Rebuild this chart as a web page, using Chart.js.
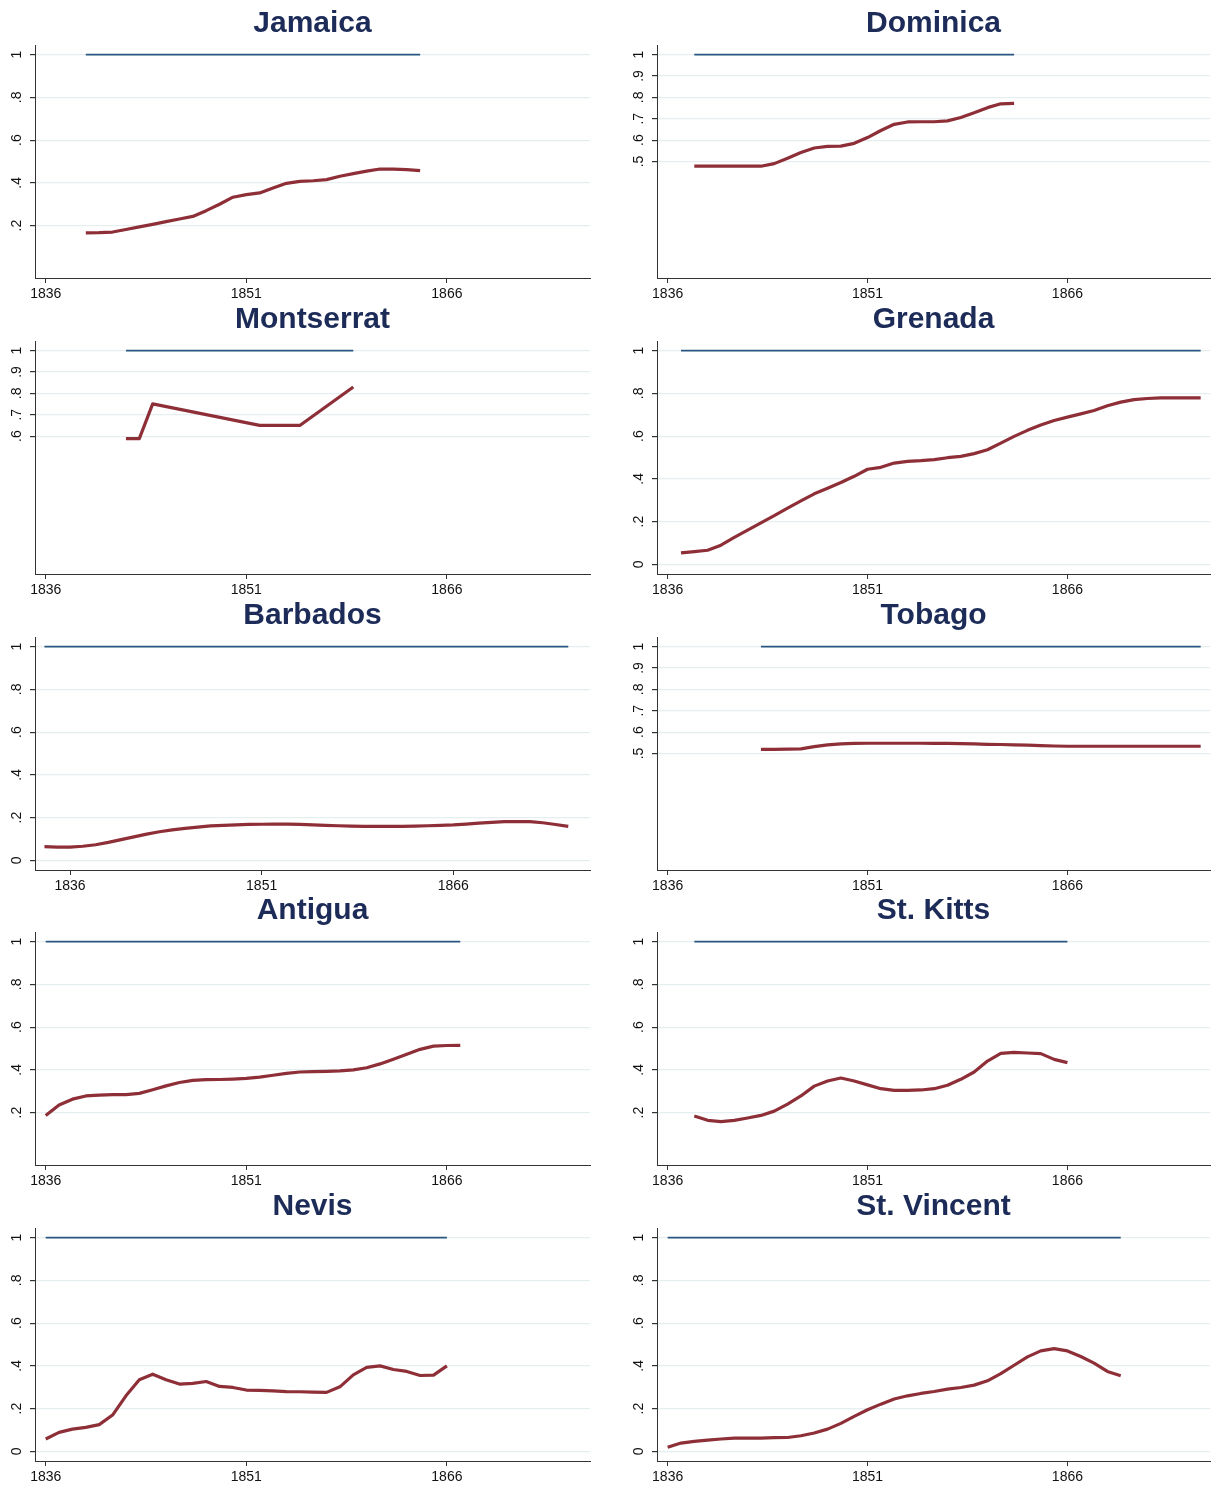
<!DOCTYPE html>
<html>
<head>
<meta charset="utf-8">
<script src="https://cdn.jsdelivr.net/npm/chart.js@4.4.1/dist/chart.umd.min.js"></script>
<style>
  html, body { margin: 0; padding: 0; background: #fff; }
  #wrap { position: relative; width: 1211px; height: 1486px; }
  #wrap canvas { position: absolute; }
</style>
</head>
<body>
<div id="wrap"></div>
<script>
// share of ... by colony, one panel per colony

const xTicks = [1836, 1851, 1866];
const yTicksFull  = [0, 0.2, 0.4, 0.6, 0.8, 1];
const yTicksFrom2 = [0.2, 0.4, 0.6, 0.8, 1];
const yTicksFrom5 = [0.5, 0.6, 0.7, 0.8, 0.9, 1];
const yTicksFrom6 = [0.6, 0.7, 0.8, 0.9, 1];

const jamaicaStart = 1839;
const jamaicaShare = [0.166, 0.167, 0.170, 0.182, 0.194, 0.206, 0.219, 0.231, 0.243, 0.270,
  0.300, 0.333, 0.345, 0.353, 0.376, 0.398, 0.407, 0.410, 0.415, 0.431, 0.443, 0.455, 0.465,
  0.464, 0.462, 0.457];

const dominicaStart = 1838;
const dominicaShare = [0.478, 0.478, 0.478, 0.478, 0.478, 0.478, 0.490, 0.515, 0.542, 0.563,
  0.571, 0.572, 0.585, 0.612, 0.645, 0.674, 0.685, 0.686, 0.686, 0.690, 0.706, 0.728, 0.752,
  0.770, 0.772];

const montserratYears = [1842, 1843, 1844, 1852, 1855, 1859];
const montserratShare = [0.588, 0.588, 0.751, 0.650, 0.650, 0.830];

const grenadaStart = 1837;
const grenadaShare = [0.054, 0.060, 0.066, 0.090, 0.126, 0.160, 0.194, 0.228, 0.263, 0.297,
  0.330, 0.356, 0.383, 0.412, 0.445, 0.454, 0.474, 0.482, 0.485, 0.490, 0.499, 0.505, 0.518,
  0.536, 0.567, 0.599, 0.627, 0.652, 0.673, 0.689, 0.704, 0.720, 0.742, 0.759, 0.771, 0.776,
  0.779, 0.779, 0.779, 0.779];

const barbadosStart = 1834;
const barbadosShare = [0.064, 0.062, 0.062, 0.066, 0.073, 0.084, 0.097, 0.110, 0.123, 0.134,
  0.143, 0.150, 0.156, 0.161, 0.164, 0.166, 0.168, 0.169, 0.170, 0.170, 0.168, 0.166, 0.164,
  0.162, 0.160, 0.159, 0.159, 0.159, 0.159, 0.160, 0.162, 0.164, 0.166, 0.170, 0.174, 0.178,
  0.181, 0.182, 0.181, 0.176, 0.168, 0.159];

const tobagoStart = 1843;
const tobagoShare = [0.519, 0.519, 0.520, 0.522, 0.532, 0.540, 0.545, 0.547, 0.548, 0.548,
  0.548, 0.548, 0.548, 0.547, 0.547, 0.546, 0.545, 0.543, 0.542, 0.540, 0.539, 0.537, 0.535,
  0.534, 0.534, 0.534, 0.534, 0.534, 0.534, 0.534, 0.534, 0.534, 0.534, 0.534];

const antiguaStart = 1836;
const antiguaShare = [0.187, 0.236, 0.263, 0.278, 0.282, 0.284, 0.284, 0.290, 0.307, 0.325,
  0.341, 0.351, 0.354, 0.355, 0.357, 0.360, 0.366, 0.375, 0.384, 0.390, 0.392, 0.393, 0.395,
  0.400, 0.410, 0.428, 0.450, 0.473, 0.496, 0.511, 0.514, 0.515];

const stKittsStart = 1838;
const stKittsShare = [0.184, 0.164, 0.158, 0.164, 0.175, 0.187, 0.207, 0.240, 0.278, 0.324,
  0.348, 0.362, 0.348, 0.330, 0.312, 0.304, 0.304, 0.306, 0.312, 0.328, 0.356, 0.390, 0.441,
  0.477, 0.482, 0.479, 0.476, 0.449, 0.434];

const nevisStart = 1836;
const nevisShare = [0.058, 0.089, 0.104, 0.112, 0.125, 0.170, 0.260, 0.335, 0.361, 0.335,
  0.315, 0.318, 0.327, 0.304, 0.299, 0.287, 0.285, 0.283, 0.280, 0.279, 0.277, 0.276, 0.302,
  0.358, 0.393, 0.400, 0.383, 0.374, 0.355, 0.357, 0.400];

const stVincentStart = 1836;
const stVincentShare = [0.019, 0.039, 0.047, 0.053, 0.058, 0.062, 0.062, 0.062, 0.064, 0.065,
  0.073, 0.086, 0.104, 0.131, 0.164, 0.195, 0.221, 0.245, 0.260, 0.271, 0.280, 0.291, 0.299,
  0.310, 0.330, 0.364, 0.403, 0.442, 0.470, 0.481, 0.470, 0.444, 0.413, 0.374, 0.354];

function yearsFrom(start, values) {
  return values.map((_, i) => start + i);
}

const panels = [
  { name: 'Jamaica',     years: yearsFrom(jamaicaStart, jamaicaShare),     share: jamaicaShare,     yTicks: yTicksFrom2 },
  { name: 'Dominica',    years: yearsFrom(dominicaStart, dominicaShare),   share: dominicaShare,    yTicks: yTicksFrom5 },
  { name: 'Montserrat',  years: montserratYears,                           share: montserratShare,  yTicks: yTicksFrom6 },
  { name: 'Grenada',     years: yearsFrom(grenadaStart, grenadaShare),     share: grenadaShare,     yTicks: yTicksFull },
  { name: 'Barbados',    years: yearsFrom(barbadosStart, barbadosShare),   share: barbadosShare,    yTicks: yTicksFull, xMin: 1833.26 },
  { name: 'Tobago',      years: yearsFrom(tobagoStart, tobagoShare),       share: tobagoShare,      yTicks: yTicksFrom5 },
  { name: 'Antigua',     years: yearsFrom(antiguaStart, antiguaShare),     share: antiguaShare,     yTicks: yTicksFrom2 },
  { name: 'St. Kitts',   years: yearsFrom(stKittsStart, stKittsShare),     share: stKittsShare,     yTicks: yTicksFrom2 },
  { name: 'Nevis',       years: yearsFrom(nevisStart, nevisShare),         share: nevisShare,       yTicks: yTicksFull },
  { name: 'St. Vincent', years: yearsFrom(stVincentStart, stVincentShare), share: stVincentShare,   yTicks: yTicksFull },
];

const FONT = '"Liberation Sans", Arial, sans-serif';
const rowTops = [0, 296, 592, 887, 1183];

function fmtY(v) {
  if (v === 0) return '0';
  if (v === 1) return '1';
  return String(v).replace(/^0/, '');
}

// Stata-style extras: centred bold title and rotated y labels
const stataDecor = {
  id: 'stataDecor',
  afterDraw(chart, args, opts) {
    const ctx = chart.ctx;
    const area = chart.chartArea;
    const ys = chart.scales.y;
    ctx.save();
    ctx.fillStyle = '#1c2b57';
    ctx.font = 'bold 30px ' + FONT;
    ctx.textAlign = 'center';
    ctx.textBaseline = 'middle';
    ctx.fillText(opts.title, (area.left + area.right) / 2, 24);

    ctx.fillStyle = '#111';
    ctx.font = '14px ' + FONT;
    opts.yTicks.forEach(v => {
      const py = ys.getPixelForValue(v);
      ctx.save();
      ctx.translate(area.left - 18, py);
      ctx.rotate(-Math.PI / 2);
      ctx.fillText(fmtY(v), 0, 0);
      ctx.restore();
    });
    ctx.restore();
  }
};

const wrap = document.getElementById('wrap');

panels.forEach((p, i) => {
  const col = i % 2;
  const row = Math.floor(i / 2);
  const canvas = document.createElement('canvas');
  const w = col === 0 ? 605 : 589;
  const h = 300;
  canvas.width = w;
  canvas.height = h;
  canvas.style.width = w + 'px';
  canvas.style.height = h + 'px';
  canvas.style.left = (col === 0 ? 0 : 622) + 'px';
  canvas.style.top = rowTops[row] + 'px';
  wrap.appendChild(canvas);

  const first = p.years[0];
  const last = p.years[p.years.length - 1];

  new Chart(canvas, {
    type: 'line',
    data: {
      datasets: [
        {
          label: 'share',
          data: p.years.map((yr, k) => ({ x: yr, y: p.share[k] })),
          borderColor: '#8e2f38',
          borderWidth: 3.2,
          pointRadius: 0,
          tension: 0,
          borderJoinStyle: 'round',
        },
        {
          label: 'one',
          data: [{ x: first, y: 1 }, { x: last, y: 1 }],
          borderColor: '#2a5781',
          borderWidth: 1.6,
          pointRadius: 0,
        },
      ]
    },
    options: {
      responsive: false,
      animation: false,
      events: [],
      layout: { padding: { top: 45, left: 0, right: col === 0 ? 15 : 1, bottom: 0 } },
      plugins: {
        legend: { display: false },
        tooltip: { enabled: false },
        stataDecor: { title: p.name, yTicks: p.yTicks },
      },
      scales: {
        x: {
          type: 'linear',
          min: p.xMin || 1835.2,
          max: 1876.7,
          afterBuildTicks: s => { s.ticks = xTicks.map(v => ({ value: v })); },
          afterFit: s => { s.height = 22; },
          ticks: {
            color: '#111', font: { family: FONT, size: 14 }, padding: 3,
            maxRotation: 0, autoSkip: false, callback: v => String(v),
          },
          grid: { drawOnChartArea: false, tickLength: 5, tickColor: '#333' },
          border: { color: '#333', width: 1 },
        },
        y: {
          min: -0.045,
          max: 1.045,
          afterBuildTicks: s => { s.ticks = p.yTicks.map(v => ({ value: v })); },
          afterFit: s => { s.width = 35; },
          ticks: { display: false },
          grid: { color: '#e5eef0', lineWidth: 1.2, tickLength: 5, tickColor: '#333' },
          border: { color: '#333', width: 1 },
        }
      }
    },
    plugins: [stataDecor]
  });
});
</script>
</body>
</html>
